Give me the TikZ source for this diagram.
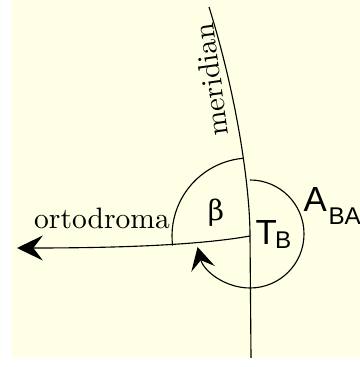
\documentclass[tikz,border=0pt]{standalone}
\usepackage{fontspec}
\newfontfamily\helvfont{Liberation Sans}
\newfontfamily\greekfont{DejaVu Serif}
\usepackage{tikz}
\usetikzlibrary{arrows.meta}
\definecolor{paper}{RGB}{255,255,229}
\newcommand{\bigsans}{\helvfont\fontsize{12.4}{14}\selectfont}
\newcommand{\subsans}{\helvfont\fontsize{8.6}{10}\selectfont}

\begin{document}
\begin{tikzpicture}[
    x=0.0125cm, y=0.0125cm,
    line/.style={line width=0.4pt, draw=black},
    bigtip/.style={-{Stealth[length=9.2pt, width=8.9pt, inset=3.4pt]}},
    smalltip/.style={-{Stealth[length=8pt, width=8.6pt, inset=3.2pt]}},
    serifname/.style={font=\fontsize{10.5}{12}\selectfont, inner sep=0pt},
    sansname/.style={inner sep=0pt}
]
    % Paper and margins
    \useasboundingbox (0,0) rectangle (360,367);
    \fill[paper] (12,10) rectangle (360,367);

    % Points
    \coordinate (tb) at (250,131);
    \coordinate (mtop) at (209,360);
    \coordinate (mbot) at (251,9);
    \coordinate (oend) at (17,119);

    % Meridian and great circle
    \draw[line] (mtop) .. controls (238,267) and (250,177) .. (tb) -- (mbot);
    \draw[line, bigtip] (tb) .. controls (200,122) and (120,119) .. (oend);

    % Angles
    \draw[line] (tb) ++(95:78) arc[start angle=95, end angle=187, radius=78];
    \draw[line, smalltip] (250,187) arc[start angle=90, end angle=-166, radius=54];

    % Labels
    \node (orto) [serifname, anchor=base] at (102,138) {ortodroma};
    \node (merid) [serifname, rotate=98] at (211,287) {meridian};
    \node (beta) [inner sep=0pt, font=\greekfont\fontsize{10}{12}\selectfont] at (216,154) {β};
    \node (tbl) [sansname, anchor=base west] at (255,122)
        {{\bigsans T}\kern-0.6pt\raisebox{-1.4pt}{\subsans B}};
    \node (aba) [sansname, anchor=base west] at (303,155)
        {{\bigsans A}\kern0.6pt\raisebox{-4.6pt}{\subsans BA}};

\end{tikzpicture}
\end{document}
